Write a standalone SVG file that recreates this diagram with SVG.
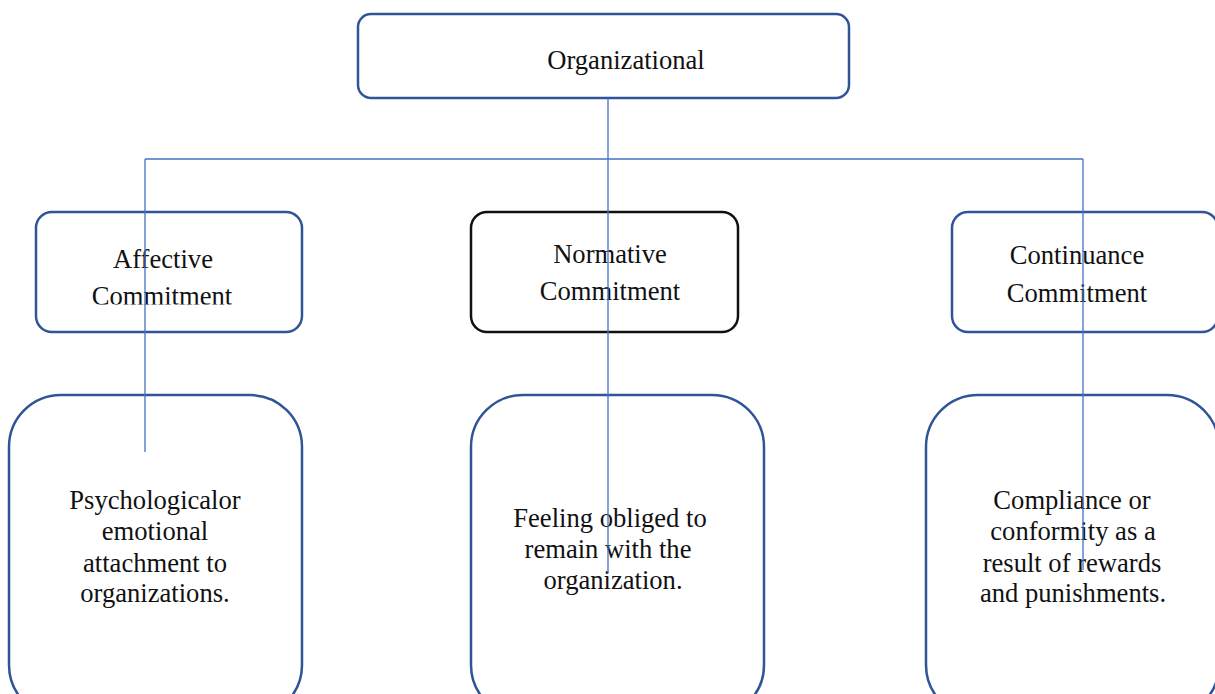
<svg xmlns="http://www.w3.org/2000/svg" width="1215" height="694" viewBox="0 0 1215 694">
<style>
.box{fill:#fff;stroke:#2f5597;stroke-width:2.5}
.dark{stroke:#111}
.t{font-family:"Liberation Serif","Times New Roman",serif;font-size:26.6px;fill:#111;text-anchor:middle}
.c{fill:none;stroke:#4472c4;stroke-width:1.3}
</style>
<defs>
<clipPath id="clipA"><rect x="36" y="212" width="266" height="92.5"/></clipPath>
</defs>
<rect width="1215" height="694" fill="#fff"/>
<g id="organizational">
<rect class="box" x="358" y="14" width="491" height="84" rx="13"/>
<text class="t" x="626" y="69">Organizational</text>
</g>
<g id="affective">
<rect class="box" x="36" y="212" width="266" height="120" rx="16"/>
<g clip-path="url(#clipA)">
<text class="t" x="163" y="268">Affective</text>
<text class="t" x="162" y="305">Commitment</text>
</g>
</g>
<g id="normative">
<rect class="box dark" x="471" y="212" width="267" height="120" rx="16"/>
<text class="t" x="610" y="263">Normative</text>
<text class="t" x="610" y="300">Commitment</text>
</g>
<g id="continuance">
<rect class="box" x="952" y="212" width="266" height="120" rx="16"/>
<text class="t" x="1077" y="264">Continuance</text>
<text class="t" x="1077" y="302">Commitment</text>
</g>
<g id="affective-desc">
<rect class="box" x="9" y="395" width="293" height="322" rx="52"/>
<text class="t" x="155" y="509">Psychologicalor</text>
<text class="t" x="155" y="540">emotional</text>
<text class="t" x="155" y="572">attachment to</text>
<text class="t" x="155" y="602">organizations.</text>
</g>
<g id="normative-desc">
<rect class="box" x="471" y="395" width="293" height="322" rx="52"/>
<text class="t" x="610" y="527">Feeling obliged to</text>
<text class="t" x="608" y="558">remain with the</text>
<text class="t" x="613" y="589">organization.</text>
</g>
<g id="continuance-desc">
<rect class="box" x="926" y="395" width="293" height="322" rx="52"/>
<text class="t" x="1072" y="509">Compliance or</text>
<text class="t" x="1073" y="540">conformity as a</text>
<text class="t" x="1072" y="572">result of rewards</text>
<text class="t" x="1073" y="602">and punishments.</text>
</g>
<g id="connectors">
<path class="c" d="M608 98 V573"/>
<path class="c" d="M145 159 H1083"/>
<path class="c" d="M145 159 V452"/>
<path class="c" d="M1083 159 V570"/>
</g>
</svg>
